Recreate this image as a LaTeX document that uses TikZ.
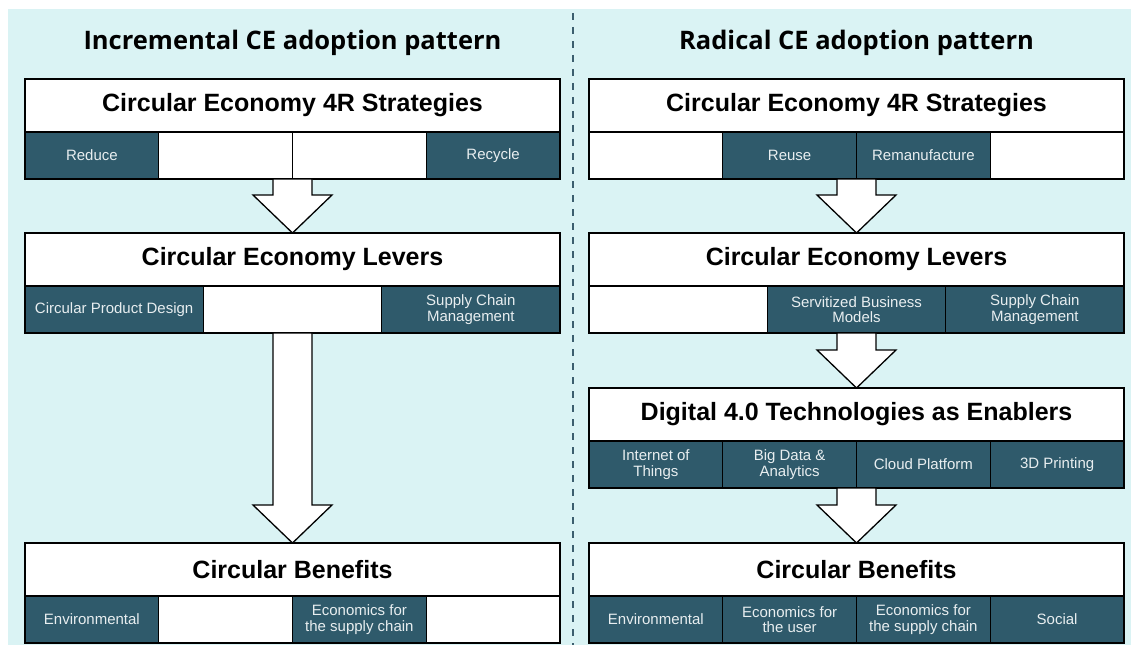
\documentclass[tikz,border=0pt]{standalone}
\usepackage{fontspec}
\setmainfont{Liberation Sans}
\newfontfamily\titlefont{Open Sans}
\usetikzlibrary{calc, positioning}
\definecolor{bgcyan}{HTML}{DAF3F4}
\definecolor{cellblue}{HTML}{2F5A6B}
\definecolor{celltext}{HTML}{E8EEF0}
\definecolor{divblue}{HTML}{3B5E6E}
\tikzset{
 paneltitle/.style={font=\titlefont\bfseries\fontsize{25.5}{30}\selectfont},
 headbox/.style={draw, fill=white, line width=1.3pt, minimum width=535pt, minimum height=53pt,
   inner sep=0pt, outer sep=0pt, anchor=north, font=\bfseries\fontsize{25}{28}\selectfont},
 cell/.style={draw, line width=1.3pt, minimum height=47pt, inner sep=0pt, outer sep=0pt,
   anchor=north west, align=center, text=celltext, font=\fontsize{15}{15.5}\selectfont},
 dark/.style={cell, fill=cellblue},
 blank/.style={cell, fill=white},
 quart/.style={minimum width=133.75pt},
 third/.style={minimum width=178.33pt},
 blockarr/.style={draw, fill=white, line width=1.3pt, line join=miter},
 divider/.style={divblue, line width=1.6pt, dash pattern=on 7pt off 7pt}
}
\newcommand*{\blockarrow}[2]{%
 \path[blockarr] let \p1=(#1), \p2=(#2) in
  (\x1-19.5pt,\y1) -- (\x1+19.5pt,\y1) -- (\x1+19.5pt,\y2+38pt) -- (\x1+39.5pt,\y2+38pt)
  -- (\x1,\y2) -- (\x1-39.5pt,\y2+38pt) -- (\x1-19.5pt,\y2+38pt) -- cycle;}

\begin{document}
\begin{tikzpicture}[x=1pt, y=-1pt]
 \useasboundingbox (0,0) rectangle (1131,647);
 \fill[bgcyan] (8,9) rectangle (1131,645);
 \draw[divider] (573,13) -- (573,645);

 % incremental pattern
 \node[paneltitle] (incTitle) at (292.5,43) {Incremental CE adoption pattern};

 \node[headbox] (inc4R) at (292.5,79) {Circular Economy 4R Strategies};
 \node[dark, quart] (inc4R-1) at (inc4R.south west) {Reduce};
 \node[blank, quart, right=0pt of inc4R-1] (inc4R-2) {};
 \node[blank, quart, right=0pt of inc4R-2] (inc4R-3) {};
 \node[dark, quart, right=0pt of inc4R-3] (inc4R-4) {Recycle};

 \node[headbox] (incLev) at (292.5,233) {Circular Economy Levers};
 \node[dark, third] (incLev-1) at (incLev.south west) {Circular Product Design};
 \node[blank, third, right=0pt of incLev-1] (incLev-2) {};
 \node[dark, third, right=0pt of incLev-2] (incLev-3) {Supply Chain\\Management};

 \node[headbox] (incBen) at (292.5,543) {Circular Benefits};
 \node[dark, quart] (incBen-1) at (incBen.south west) {Environmental};
 \node[blank, quart, right=0pt of incBen-1] (incBen-2) {};
 \node[dark, quart, right=0pt of incBen-2] (incBen-3) {Economics for\\the supply chain};
 \node[blank, quart, right=0pt of incBen-3] (incBen-4) {};

 \blockarrow{inc4R.south |- inc4R-1.south}{incLev.north}
 \blockarrow{incLev.south |- incLev-1.south}{incBen.north}

 % radical pattern
 \node[paneltitle] (radTitle) at (856.5,43) {Radical CE adoption pattern};

 \node[headbox] (rad4R) at (856.5,79) {Circular Economy 4R Strategies};
 \node[blank, quart] (rad4R-1) at (rad4R.south west) {};
 \node[dark, quart, right=0pt of rad4R-1] (rad4R-2) {Reuse};
 \node[dark, quart, right=0pt of rad4R-2] (rad4R-3) {Remanufacture};
 \node[blank, quart, right=0pt of rad4R-3] (rad4R-4) {};

 \node[headbox] (radLev) at (856.5,233) {Circular Economy Levers};
 \node[blank, third] (radLev-1) at (radLev.south west) {};
 \node[dark, third, right=0pt of radLev-1] (radLev-2) {Servitized Business\\Models};
 \node[dark, third, right=0pt of radLev-2] (radLev-3) {Supply Chain\\Management};

 \node[headbox] (radTech) at (856.5,388) {Digital 4.0 Technologies as Enablers};
 \node[dark, quart] (radTech-1) at (radTech.south west) {Internet of\\Things};
 \node[dark, quart, right=0pt of radTech-1] (radTech-2) {Big Data \&\\Analytics};
 \node[dark, quart, right=0pt of radTech-2] (radTech-3) {Cloud Platform};
 \node[dark, quart, right=0pt of radTech-3] (radTech-4) {3D Printing};

 \node[headbox] (radBen) at (856.5,543) {Circular Benefits};
 \node[dark, quart] (radBen-1) at (radBen.south west) {Environmental};
 \node[dark, quart, right=0pt of radBen-1] (radBen-2) {Economics for\\the user};
 \node[dark, quart, right=0pt of radBen-2] (radBen-3) {Economics for\\the supply chain};
 \node[dark, quart, right=0pt of radBen-3] (radBen-4) {Social};

 \blockarrow{rad4R.south |- rad4R-1.south}{radLev.north}
 \blockarrow{radLev.south |- radLev-1.south}{radTech.north}
 \blockarrow{radTech.south |- radTech-1.south}{radBen.north}
\end{tikzpicture}
\end{document}
